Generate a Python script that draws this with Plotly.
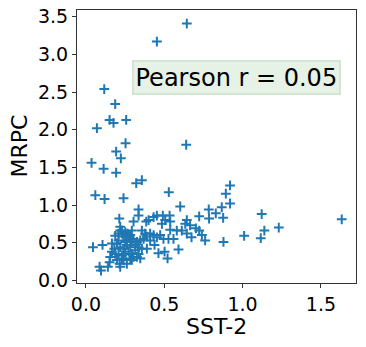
import plotly.graph_objects as go

# SST-2 vs MRPC values
sst2 = [0.644, 0.453, 0.117, 0.187, 0.151, 0.176, 0.257, 0.070, 0.253, 0.640,
        0.193, 0.223, 0.036, 0.113, 0.193, 0.321, 0.357, 0.060, 0.119, 0.240,
        0.529, 0.602, 0.336, 0.336, 0.920, 0.893, 0.920, 0.867, 0.784, 0.829,
        0.786, 0.876, 0.723, 0.644, 0.634, 0.665, 0.702, 0.723, 0.740, 0.761,
        0.674, 0.644, 0.612, 0.580, 0.591, 0.538, 0.538, 0.534, 0.491, 0.506,
        0.485, 0.453, 0.432, 0.400, 0.385, 0.357, 0.304, 0.293, 0.266, 0.213,
        0.219, 0.230, 0.251, 0.187, 0.181, 0.166, 0.155, 0.151, 0.140, 0.087,
        0.096, 0.045, 0.106, 0.215, 0.219, 0.240, 0.283, 0.304, 0.336, 0.357,
        0.389, 0.410, 0.438, 0.453, 0.474, 0.495, 0.527, 0.559, 0.463, 0.502,
        0.521, 0.878, 1.010, 1.122, 1.139, 1.116, 1.231, 1.633,
        0.219, 0.230, 0.240, 0.261, 0.208, 0.198, 0.219, 0.240, 0.261, 0.283,
        0.272, 0.251, 0.230, 0.208, 0.293, 0.315, 0.336, 0.325, 0.304, 0.293,
        0.283, 0.347, 0.368, 0.378, 0.410, 0.432, 0.230, 0.198, 0.261, 0.293,
        0.325, 0.347, 0.187, 0.166, 0.272, 0.208, 0.251, 0.315, 0.389]
mrpc = [3.41, 3.17, 2.54, 2.34, 2.13, 2.09, 2.13, 2.02, 1.82, 1.80,
        1.71, 1.62, 1.56, 1.48, 1.43, 1.29, 1.33, 1.13, 1.08, 1.09,
        1.17, 0.98, 0.94, 0.86, 1.26, 1.15, 1.02, 0.97, 0.94, 0.89,
        0.82, 0.83, 0.85, 0.80, 0.75, 0.73, 0.69, 0.66, 0.60, 0.53,
        0.57, 0.62, 0.66, 0.66, 0.41, 0.67, 0.78, 0.86, 0.86, 0.80,
        0.75, 0.86, 0.84, 0.80, 0.78, 0.66, 0.78, 0.66, 0.62, 0.82,
        0.71, 0.66, 0.64, 0.59, 0.42, 0.38, 0.31, 0.24, 0.18, 0.18,
        0.13, 0.44, 0.47, 0.22, 0.18, 0.27, 0.29, 0.31, 0.35, 0.42,
        0.42, 0.53, 0.47, 0.57, 0.60, 0.55, 0.55, 0.55, 0.36, 0.38,
        0.29, 0.51, 0.59, 0.88, 0.66, 0.56, 0.70, 0.81,
        0.66, 0.62, 0.58, 0.53, 0.53, 0.49, 0.44, 0.42, 0.47, 0.44,
        0.38, 0.35, 0.33, 0.35, 0.35, 0.40, 0.44, 0.51, 0.55, 0.51,
        0.60, 0.53, 0.55, 0.62, 0.62, 0.60, 0.29, 0.27, 0.22, 0.27,
        0.31, 0.29, 0.35, 0.49, 0.58, 0.62, 0.51, 0.47, 0.58]

x_ticks = [0.0, 0.5, 1.0, 1.5]
y_ticks = [0.0, 0.5, 1.0, 1.5, 2.0, 2.5, 3.0, 3.5]
label = "Pearson r = 0.05"

fig = go.Figure()
fig.add_trace(go.Scatter(
    x=sst2, y=mrpc, mode='markers',
    marker=dict(symbol='cross-thin', size=7, color='#1f77b4',
                line=dict(color='#1f77b4', width=2)),
    showlegend=False
))

axis_style = dict(
    showline=True, mirror=True, linecolor='#333333', linewidth=1,
    ticks='outside', ticklen=4, tickcolor='#333333',
    showgrid=False, zeroline=False, automargin=False,
    tickfont=dict(family='DejaVu Sans', size=19, color='black'),
)
title_font = dict(family='DejaVu Sans', size=22, color='black')

fig.update_layout(
    width=366, height=347,
    margin=dict(l=77, r=10, t=10, b=64),
    plot_bgcolor='white', paper_bgcolor='white',
    xaxis=dict(range=[-0.057, 1.724], tickvals=x_ticks,
               ticktext=[f"{v:.1f}" for v in x_ticks], **axis_style),
    yaxis=dict(range=[-0.036, 3.59], tickvals=y_ticks,
               ticktext=[f"{v:.1f}" for v in y_ticks], **axis_style),
    annotations=[
        dict(x=0.293, y=2.69, xref='x', yref='y', xanchor='left', yanchor='middle',
             text=label, showarrow=False,
             font=dict(family='DejaVu Sans', size=24, color='black'),
             bgcolor='rgba(0,128,0,0.1)', bordercolor='rgba(0,90,0,0.15)',
             borderwidth=1.5, borderpad=2),
        # axis titles placed in pixels below / left of the plot area
        dict(x=0.5, y=0, xref='paper', yref='paper', yshift=-43,
             xanchor='center', yanchor='middle', text='SST-2',
             showarrow=False, font=title_font),
        dict(x=0, y=0.5, xref='paper', yref='paper', xshift=-58,
             xanchor='center', yanchor='middle', text='MRPC', textangle=-90,
             showarrow=False, font=title_font),
    ],
)

# drop the browser's default body margin so the figure sits at (0, 0)
fig.write_html("out.html", config={'displayModeBar': False},
               post_script="document.body.style.margin='0';")
